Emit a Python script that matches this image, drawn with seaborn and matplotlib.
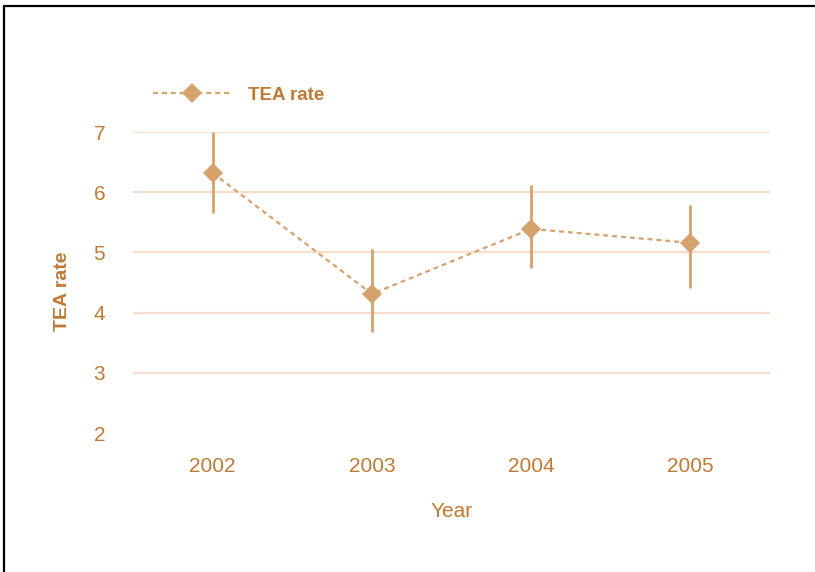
"""TEA rate by year with intervals, point chart."""

import matplotlib.pyplot as plt
import seaborn as sns
from matplotlib.lines import Line2D


YEARS = ["2002", "2003", "2004", "2005"]
TEA_RATE = [6.32, 4.31, 5.39, 5.16]
CI_LOW = [5.66, 3.68, 4.74, 4.41]
CI_HIGH = [7.00, 5.05, 6.12, 5.79]
Y_TICKS = [2, 3, 4, 5, 6, 7]

TEXT_COLOR = "#BF7A35"
MARK_COLOR = "#D6A26C"
GRID_COLOR = "#F6DECA"

sns.set_theme(style="white")
plt.rcParams["font.family"] = ["Liberation Sans", "DejaVu Sans"]

fig = plt.figure(figsize=(8.15, 5.72), dpi=100)
ax = fig.add_axes([0.1632, 0.243, 0.7816, 0.5262])

# interval bars first so the diamonds sit on top
ax.vlines(YEARS, CI_LOW, CI_HIGH, color=MARK_COLOR, linewidth=2, zorder=2)
sns.lineplot(
	x=YEARS, y=TEA_RATE, ax=ax, color=MARK_COLOR, marker="D", markersize=10,
	markeredgewidth=0, linewidth=1.6, linestyle=(0, (2.2, 1.8)), label="TEA rate", zorder=3,
)

ax.set_xlim(-0.5, 3.5)
ax.set_ylim(2, 7)
ax.set_yticks(Y_TICKS)
ax.yaxis.grid(True, color=GRID_COLOR, linewidth=1.6)
ax.xaxis.grid(False)
ax.get_ygridlines()[0].set_visible(False)
ax.set_axisbelow(True)
for s in ax.spines.values():
	s.set_visible(False)

ax.tick_params(axis="y", length=0, pad=20, labelsize=15, labelcolor=TEXT_COLOR)
ax.tick_params(axis="x", length=0, pad=17, labelsize=15, labelcolor=TEXT_COLOR)
ax.set_xlabel("Year", fontsize=15, color=TEXT_COLOR, labelpad=19)
ax.set_ylabel("TEA rate", fontsize=14, fontweight="bold", color=TEXT_COLOR)
ax.yaxis.set_label_coords(-0.097, 0.472)

leg = ax.legend(
	loc="center left", bbox_to_anchor=(153 / 815, 1 - 95 / 572), bbox_transform=fig.transFigure,
	frameon=False, handlelength=4.2, handletextpad=0.85, borderpad=0, borderaxespad=0,
	prop={"size": 13.5, "weight": "bold"},
)
for t in leg.get_texts():
	t.set_color(TEXT_COLOR)

# black frame on top and left edge, like the source image
fig.add_artist(Line2D([4 / 815, 1], [1 - 6 / 572, 1 - 6 / 572], color="black", linewidth=1.6, transform=fig.transFigure))
fig.add_artist(Line2D([4 / 815, 4 / 815], [0, 1 - 6 / 572], color="black", linewidth=1.6, transform=fig.transFigure))

fig.savefig("out.png", dpi=100)
plt.close(fig)
